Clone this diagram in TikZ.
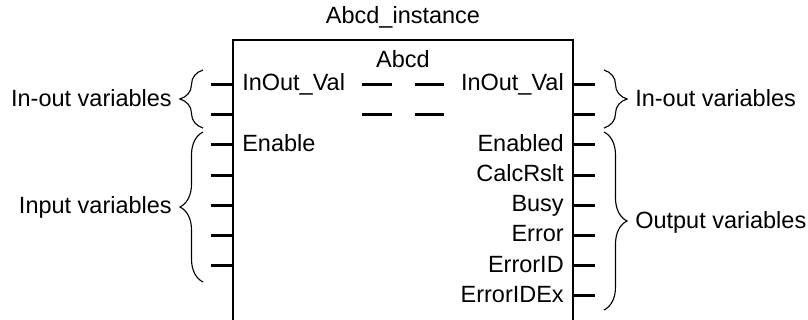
\documentclass[tikz,border=0pt]{standalone}
\usepackage{fontspec}
\setmainfont{Liberation Sans}
\usetikzlibrary{decorations.pathreplacing}

\tikzset{
  lbl/.style={inner sep=0pt, font=\fontsize{16.7}{20}\selectfont},
  pin/.style={line width=2pt},
  fbbox/.style={line width=2.1pt},
  link/.style={line width=2pt},
  grp/.style={decorate, decoration={brace, amplitude=0.575cm}, line width=0.8pt},
}

\begin{document}
\begin{tikzpicture}[x=0.025cm, y=-0.025cm]
  \useasboundingbox (0,0) rectangle (808,320);
  % function block
  \draw[fbbox] (233,325) |- (573,40) -- (573,325);
  \node[lbl, anchor=base] (inst) at (403,24) {Abcd\_instance};
  \node[lbl, anchor=base] (fbname) at (403,68) {Abcd};
  % pins on the left edge
  \coordinate (inA) at (233,84.5);
  \coordinate (inB) at (233,114.7);
  \coordinate (inC) at (233,144.9);
  \coordinate (inD) at (233,175.1);
  \coordinate (inE) at (233,205.3);
  \coordinate (inF) at (233,235.5);
  \coordinate (inG) at (233,265.7);
  \draw[pin] (inA) -- ++(-22,0);
  \draw[pin] (inB) -- ++(-22,0);
  \draw[pin] (inC) -- ++(-22,0);
  \draw[pin] (inD) -- ++(-22,0);
  \draw[pin] (inE) -- ++(-22,0);
  \draw[pin] (inF) -- ++(-22,0);
  \draw[pin] (inG) -- ++(-22,0);
  \node[lbl, anchor=base west] (inoutL) at (242,90.8) {InOut\_Val};
  \node[lbl, anchor=base west] (enable) at (242,151.2) {Enable};
  % pins on the right edge
  \coordinate (outA) at (573,84.5);
  \coordinate (outB) at (573,114.7);
  \coordinate (outC) at (573,144.9);
  \coordinate (outD) at (573,175.1);
  \coordinate (outE) at (573,205.3);
  \coordinate (outF) at (573,235.5);
  \coordinate (outG) at (573,265.7);
  \coordinate (outH) at (573,295.9);
  \draw[pin] (outA) -- ++(22,0);
  \draw[pin] (outB) -- ++(22,0);
  \draw[pin] (outC) -- ++(22,0);
  \draw[pin] (outD) -- ++(22,0);
  \draw[pin] (outE) -- ++(22,0);
  \draw[pin] (outF) -- ++(22,0);
  \draw[pin] (outG) -- ++(22,0);
  \draw[pin] (outH) -- ++(22,0);
  \node[lbl, anchor=base east] (inoutR) at (564,90.8) {InOut\_Val};
  \node[lbl, anchor=base east] (enabled) at (564,151.2) {Enabled};
  \node[lbl, anchor=base east] (calcrslt) at (564,181.4) {CalcRslt};
  \node[lbl, anchor=base east] (busy) at (564,211.6) {Busy};
  \node[lbl, anchor=base east] (error) at (564,241.8) {Error};
  \node[lbl, anchor=base east] (errorid) at (564,272) {ErrorID};
  \node[lbl, anchor=base east] (erroridex) at (564,302.2) {ErrorIDEx};
  % in-out pass through
  \draw[link] (362,84.5) -- (392,84.5);
  \draw[link] (415,84.5) -- (444,84.5);
  \draw[link] (362,114.7) -- (392,114.7);
  \draw[link] (415,114.7) -- (444,114.7);
  % groups
  \draw[grp] (203,128) -- (203,70);
  \draw[grp] (203,282) -- (203,132);
  \draw[grp] (604,70) -- (604,128);
  \draw[grp] (604,132) -- (604,310);
  \node[lbl, anchor=base east] (grpInoutL) at (172,107) {In-out variables};
  \node[lbl, anchor=base east] (grpInput) at (172,214) {Input variables};
  \node[lbl, anchor=base west] (grpInoutR) at (635,107) {In-out variables};
  \node[lbl, anchor=base west] (grpOutput) at (635,229) {Output variables};
\end{tikzpicture}
\end{document}
